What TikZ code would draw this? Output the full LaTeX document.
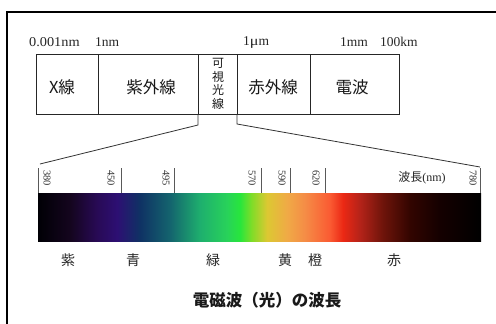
\documentclass[tikz,border=0pt]{standalone}
\usepackage{fontspec}
\setmainfont{Liberation Serif}
\newfontfamily\jp{Noto Sans CJK JP}
\definecolor{s0}{RGB}{0,0,5}
\definecolor{s1}{RGB}{20,5,30}
\definecolor{s2}{RGB}{40,10,85}
\definecolor{s3}{RGB}{45,15,115}
\definecolor{s4}{RGB}{15,50,100}
\definecolor{s5}{RGB}{20,100,110}
\definecolor{s6}{RGB}{30,175,110}
\definecolor{s7}{RGB}{40,210,90}
\definecolor{s8}{RGB}{40,230,60}
\definecolor{s9}{RGB}{130,220,40}
\definecolor{s10}{RGB}{220,200,50}
\definecolor{s11}{RGB}{240,170,70}
\definecolor{s12}{RGB}{245,140,70}
\definecolor{s13}{RGB}{250,90,50}
\definecolor{s14}{RGB}{235,40,20}
\definecolor{s15}{RGB}{180,35,25}
\definecolor{s16}{RGB}{110,20,10}
\definecolor{s17}{RGB}{50,5,0}
\definecolor{s18}{RGB}{20,0,0}
\definecolor{s19}{RGB}{0,0,0}
\pgfdeclarehorizontalshading{spec}{100bp}{color(0bp)=(s0); color(25bp)=(s0);
 color(28.61bp)=(s1); color(31.66bp)=(s2); color(33.92bp)=(s3); color(36.51bp)=(s4);
 color(39.90bp)=(s5); color(43.28bp)=(s6); color(46.33bp)=(s7); color(47.80bp)=(s8);
 color(49.15bp)=(s9); color(50.85bp)=(s10); color(53.10bp)=(s11); color(55.14bp)=(s12);
 color(57.96bp)=(s13); color(59.42bp)=(s14); color(61.34bp)=(s15); color(63.94bp)=(s16);
 color(66.99bp)=(s17); color(70.37bp)=(s18); color(75bp)=(s19); color(100bp)=(s19)}
\begin{document}
\begin{tikzpicture}[x=1pt,y=-1pt,
  frame/.style={line width=1.4pt,black},
  boxline/.style={line width=0.9pt,black!85},
  conn/.style={line width=0.8pt,black!80},
  ticklinestyle/.style={line width=0.8pt,black!65},
  toplab/.style={font=\fontsize{13.5}{14}\selectfont,anchor=west,inner sep=0pt,text=black!85},
  boxlab/.style={font=\jp\fontsize{16.5}{18}\selectfont,inner sep=0pt,text=black!90},
  vislab/.style={font=\jp\fontsize{12}{13.5}\selectfont,align=center,inner sep=0pt,text=black!90},
  ticklab/.style={font=\fontsize{10.5}{11}\selectfont,rotate=-90,inner sep=0pt,text=black!80},
  collab/.style={font=\jp\fontsize{14}{15}\selectfont,inner sep=0pt,text=black!85},
  titlelab/.style={font=\jp\bfseries\fontsize{16.5}{18}\selectfont,inner sep=0pt,text=black!90}]
\useasboundingbox (0,0) rectangle (496,324);
\fill[white] (0,0) rectangle (496,324);
% outer frame (only top and left edges visible)
\coordinate (fb) at (7,324);
\coordinate (ftl) at (7,12);
\coordinate (fr) at (496,12);
\draw[frame] (fb) -- (ftl) -- (fr);
% wavelength labels
\node[toplab] (w1) at (29,42) {\scalebox{1.06}[1]{0.001nm}};
\node[toplab] (w2) at (95,42) {1nm};
\node[toplab] (w3) at (243,42) {1\scalebox{1.2}[1]{μ}m};
\node[toplab] (w4) at (340,42) {1mm};
\node[toplab] (w5) at (380,42) {100km};
% band box
\coordinate (btl) at (36,54);
\coordinate (bbr) at (399,114);
\draw[boxline] (btl) rectangle (bbr);
\foreach \x in {98,198,237,310} \draw[boxline] (\x,54) -- (\x,114);
\node[boxlab] (xr) at (62,87) {X線};
\node[boxlab] (uv) at (151,87) {紫外線};
\node[vislab] (vis) at (218,84) {可\\視\\光\\線};
\node[boxlab] (ir) at (273,87) {赤外線};
\node[boxlab] (rad) at (352,87) {電波};
% zoom connectors
\coordinate (vl) at (198,114);
\coordinate (vlb) at (198,125);
\coordinate (vr) at (237,114);
\coordinate (vrb) at (237,124);
\coordinate (sl) at (40,164);
\coordinate (sr) at (480,167);
\draw[conn] (vl) -- (vlb) -- (sl);
\draw[conn] (vr) -- (vrb) -- (sr);
% spectrum bar
\coordinate (bar1) at (38,193);
\coordinate (bar2) at (481,241);
\shade[shading=spec] (bar1) rectangle (bar2);
% ticks
\foreach \x/\lx/\t in {38/47/380,121/111/450,174/166/495,261/252/570,290/282/590,325/316/620,480/473/780}{
  \draw[ticklinestyle] (\x,168) -- (\x,193);
  \node[ticklab] at (\lx,178) {\t};
}
\node[font=\fontsize{12}{12}\selectfont,inner sep=0pt,text=black!85] (wl) at (422,178) {{\jp 波長}(nm)};
% colour names
\node[collab] (c1) at (68,260) {紫};
\node[collab] (c2) at (133,260) {青};
\node[collab] (c3) at (213,260) {緑};
\node[collab] (c4) at (285,260) {黄};
\node[collab] (c5) at (315,260) {橙};
\node[collab] (c6) at (394,260) {赤};
% title
\node[titlelab] (title) at (267,300) {電磁波（光）の波長};
\end{tikzpicture}
\end{document}
